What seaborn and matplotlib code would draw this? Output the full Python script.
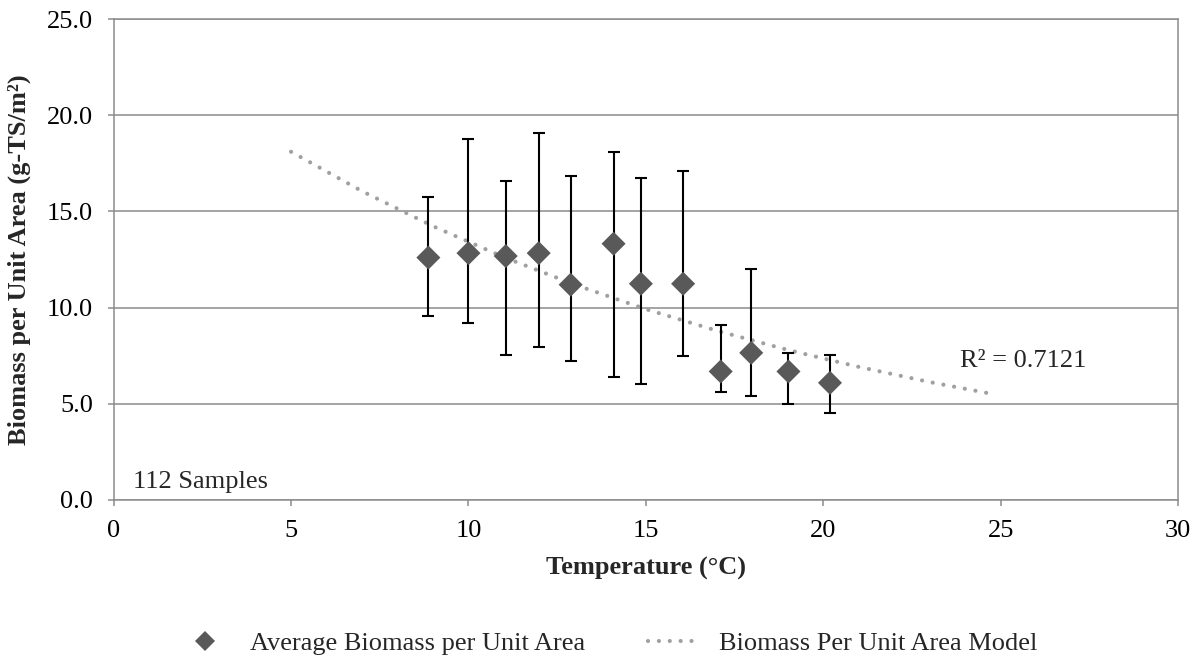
import matplotlib
matplotlib.use("Agg")
import matplotlib.pyplot as plt
from matplotlib.lines import Line2D
import seaborn as sns
import pandas as pd
import numpy as np

# ---- data ----
temperature = [8.87, 10.0, 11.05, 11.98, 12.88, 14.09, 14.86, 16.05, 17.11, 17.97, 19.02, 20.19]
avg_biomass = [12.60, 12.83, 12.68, 12.83, 11.19, 13.32, 11.24, 11.24, 6.68, 7.65, 6.68, 6.09]
err_upper = [15.76, 18.77, 16.57, 19.05, 16.83, 18.08, 16.73, 17.11, 9.08, 12.02, 7.66, 7.56]
err_lower = [9.55, 9.22, 7.52, 7.96, 7.20, 6.40, 6.04, 7.47, 5.62, 5.40, 4.97, 4.51]

model_temp = [5, 7, 9, 11, 13, 15, 17, 19, 21, 23, 24.8]
model_biomass = [18.10, 16.05, 14.23, 12.62, 11.19, 9.92, 8.80, 7.80, 6.92, 6.13, 5.50]

x_ticks = [0, 5, 10, 15, 20, 25, 30]
y_ticks = [0, 5, 10, 15, 20, 25]

sns.set_style("white")
plt.rcParams['font.family'] = ['Liberation Serif', 'DejaVu Serif']
FS = 19

df = pd.DataFrame({"Temperature": temperature, "Biomass": avg_biomass})
dm = pd.DataFrame({"Temperature": model_temp, "Biomass": model_biomass})

fig = plt.figure(figsize=(11.99, 6.58), dpi=100)
ax = fig.add_axes([113.7 / 1199, 1 - 500 / 658, (1178 - 113.7) / 1199, (500 - 19) / 658])

grid_c = "#8c8c8c"
ax.set_axisbelow(True)
ax.yaxis.grid(True, color=grid_c, linewidth=1.1)
ax.xaxis.grid(False)

DOT = (0, (0.01, 2.6))
MODEL_C = "#a0a0a0"

# model (dotted trendline)
sns.lineplot(data=dm, x="Temperature", y="Biomass", ax=ax, color=MODEL_C,
             linewidth=3.0, linestyle=DOT, dash_capstyle="round",
             zorder=2, legend=False)

# error bars
y = np.array(avg_biomass)
yerr = [y - np.array(err_lower), np.array(err_upper) - y]
ax.errorbar(temperature, avg_biomass, yerr=yerr, fmt="none", ecolor="black",
            elinewidth=1.5, capsize=4.5, capthick=1.5, zorder=3)

# markers
sns.scatterplot(data=df, x="Temperature", y="Biomass", ax=ax, marker="D",
                s=150, color="#595959", edgecolor="none", zorder=4, legend=False)

ax.set_xlim(0, 30)
ax.set_ylim(0, 25)
ax.set_xticks(x_ticks)
ax.set_xticklabels([str(t) for t in x_ticks])
ax.set_yticks(y_ticks)
ax.set_yticklabels([f"{t:.1f}" for t in y_ticks])

for s in ax.spines.values():
    s.set_color(grid_c)
    s.set_linewidth(1.1)

ax.tick_params(axis="both", which="major", labelsize=FS, colors="black",
               length=4.5, width=1.1, direction="out", color=grid_c)
ax.tick_params(axis="x", pad=10)
ax.tick_params(axis="y", pad=10.5)
ax.tick_params(axis="both", bottom=True, left=True)

ax.set_xlabel("Temperature (°C)", fontsize=FS, fontweight="bold")
ax.set_ylabel("Biomass per Unit Area (g-TS/m²)", fontsize=FS, fontweight="bold")
ax.xaxis.set_label_coords(0.5, -0.118)
ax.yaxis.set_label_coords(-0.078, 0.5)

ax.text(0.54, 0.64, "112 Samples", fontsize=FS, ha="left", va="baseline")
ax.text(27.41, 6.92, "R² = 0.7121", fontsize=FS, ha="right", va="baseline")

handles = [
    Line2D([], [], marker="D", color="#595959", linestyle="none", markersize=10,
           markeredgewidth=0),
    Line2D([], [], color=MODEL_C, linewidth=3.0, linestyle=DOT,
           dash_capstyle="round"),
]
labels = ["Average Biomass per Unit Area", "Biomass Per Unit Area Model"]
fig.legend(handles, labels, loc="center", bbox_to_anchor=(608 / 1199, 1 - 643 / 658),
           ncol=2, frameon=False, fontsize=FS, handlelength=2.0,
           handletextpad=0.7, columnspacing=2.4)

fig.savefig("out.png", dpi=100)
